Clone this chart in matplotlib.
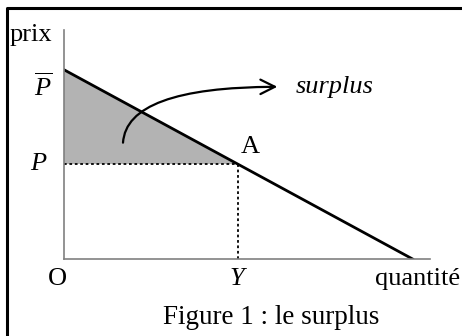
import matplotlib.pyplot as plt

plt.rcParams['font.family'] = 'Liberation Serif'
plt.rcParams['mathtext.fontset'] = 'custom'
plt.rcParams['mathtext.rm'] = 'Liberation Serif'
plt.rcParams['mathtext.it'] = 'Liberation Serif:italic'

# demand line: price intercept and quantity intercept
p_bar = 10
q_max = 10
# equilibrium point A
y_eq = 5
p_eq = 5
# surplus arrow: start and end
arrow_start = (1.69, 6.0)
arrow_end = (6.2, 9.1)

fs = 19

fig = plt.figure(figsize=(4.62, 3.36), dpi=100)

# frame round the figure (left and top edges)
bg = fig.add_axes([0, 0, 1, 1])
bg.set_xlim(0, 462)
bg.set_ylim(336, 0)
bg.axis('off')
bg.plot([7, 7, 462], [336, 8, 8], color='black', lw=2.2)
bg.text(271, 318, "Figure 1 : le surplus", fontsize=19.5, ha='center', va='center')

ax = fig.add_axes([64 / 462, 77 / 336, 366 / 462, 229 / 336])
ax.set_xlim(0, 10.5)
ax.set_ylim(0, 12.1)
for s in ['top', 'right']:
    ax.spines[s].set_visible(False)
for s in ['left', 'bottom']:
    ax.spines[s].set_color('#808080')
    ax.spines[s].set_linewidth(1.2)
ax.set_xticks([])
ax.set_yticks([])
ax.patch.set_alpha(0)

ax.fill([0, 0, y_eq], [p_bar, p_eq, p_eq], color='#b3b3b3', lw=0)
ax.plot([0, q_max], [p_bar, 0], color='black', lw=2)
ax.plot([0, y_eq], [p_eq, p_eq], color='black', lw=1.3, ls=(0, (1.5, 1.5)))
ax.plot([y_eq, y_eq], [0, p_eq], color='black', lw=1.3, ls=(0, (1.5, 1.5)))

ax.annotate("", xy=arrow_end, xytext=arrow_start,
            arrowprops=dict(arrowstyle='->', lw=1.6, color='black',
                            mutation_scale=26,
                            connectionstyle="angle3,angleA=90,angleB=0"))
ax.text(arrow_end[0] + 0.45, arrow_end[1], "surplus", style='italic',
        fontsize=fs, ha='left', va='center')

ax.text(y_eq + 0.35, p_eq + 0.9, "A", fontsize=fs, ha='center', va='center')
ax.text(-0.6, p_bar - 0.9, r"$\overline{P}$", fontsize=fs, ha='center', va='center')
ax.text(-0.75, p_eq, "P", style='italic', fontsize=fs, ha='center', va='center')
ax.text(-0.2, -1.05, "O", fontsize=fs, ha='center', va='center')
ax.text(y_eq - 0.05, -1.05, "Y", style='italic', fontsize=fs, ha='center', va='center')
ax.text(8.91, -1.05, "quantité", fontsize=fs, ha='left', va='center', clip_on=False)
ax.text(-1.55, 12.1 - 0.25, "prix", fontsize=fs, ha='left', va='center')

fig.savefig('out.png', dpi=100)
